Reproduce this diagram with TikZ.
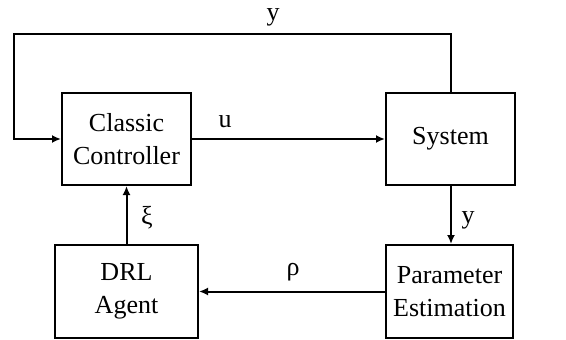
\documentclass[tikz,border=0pt]{standalone}
\usepackage{fontspec}
\setmainfont{Liberation Serif}
\usetikzlibrary{arrows.meta}
\begin{document}
\begin{tikzpicture}[x=1pt,y=-1pt,
  blk/.style={draw,line width=2pt,align=center,inner sep=0pt,font=\fontsize{26}{33}\selectfont},
  lab/.style={font=\fontsize{26}{30}\selectfont,inner sep=0pt,anchor=base},
  conn/.style={line width=2pt,-{Latex[length=9pt,width=8pt]}}]
\useasboundingbox (0,0) rectangle (566,340);
\node[blk,minimum width=129pt,minimum height=92pt] (cc) at (126.5,139) {Classic\\Controller};
\node[blk,minimum width=129pt,minimum height=92pt] (sys) at (450.5,139) {System};
\node[blk,minimum width=143pt,minimum height=93pt] (drl) at (126.5,291.5) {DRL\\Agent};
\node[blk,minimum width=127pt,minimum height=93pt] (pe) at (449.5,291.5) {Parameter\\Estimation};
\coordinate (tr) at (451,34);
\coordinate (tl) at (14,34);
\coordinate (bl) at (14,139);
\draw[conn] (cc.east) -- (sys.west);
\draw[conn] (sys.north -| tr) -- (tr) -- (tl) -- (bl) -- (cc.west);
\draw[conn] (sys.south -| tr) -- (pe.north -| tr);
\draw[conn] (pe.west |- drl.east) -- (drl.east);
\draw[conn] (drl.north) -- (cc.south);
\node[lab] (lu) at (225,127) {u};
\node[lab] (ly1) at (273,20) {y};
\node[lab] (lxi) at (147,224) {ξ};
\node[lab] (ly2) at (468,223) {y};
\node[lab] (lrho) at (293,275) {ρ};
\end{tikzpicture}
\end{document}
